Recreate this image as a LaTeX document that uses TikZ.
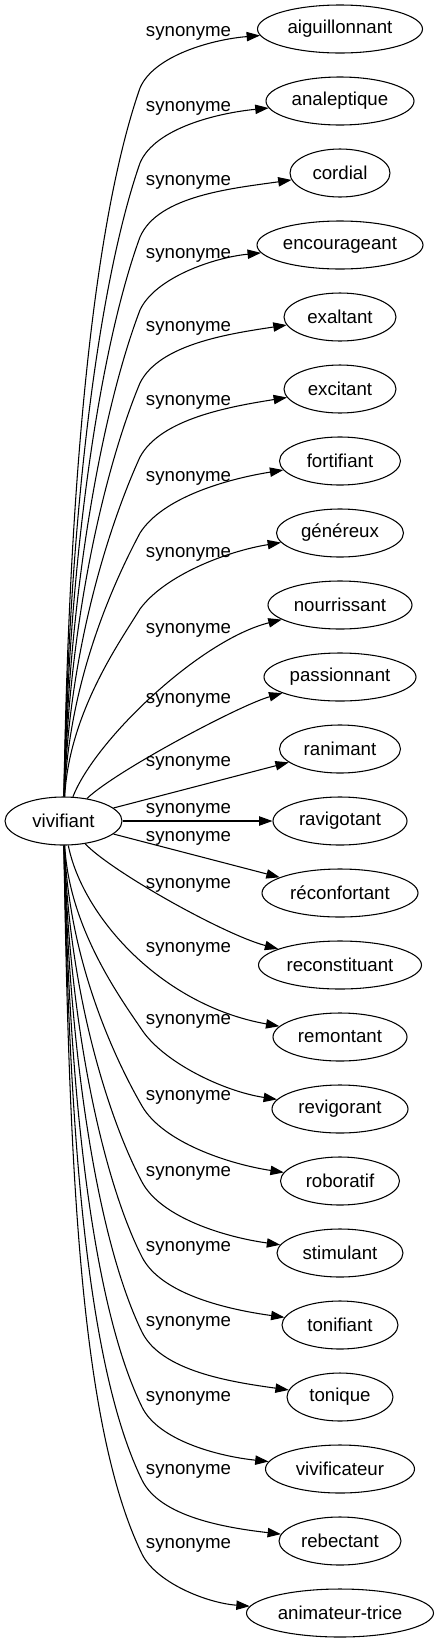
\documentclass[tikz,border=0pt]{standalone}
\usepackage{fontspec}
\setmainfont{Liberation Sans}
\usetikzlibrary{arrows.meta,shapes.geometric}
\begin{document}
\begin{tikzpicture}[x=0.75pt,y=-0.75pt,
  tg/.style={draw,ellipse,minimum height=36pt,inner sep=0pt,line width=0.8pt,font=\fontsize{14pt}{16pt}\selectfont},
  lb/.style={inner sep=0pt,font=\fontsize{14pt}{16pt}\selectfont},
  cnx/.style={draw,line width=0.8pt,-{Triangle[length=10pt,width=7pt]}}]
\useasboundingbox (0,0) rectangle (439,1643);
% centre node
\node[tg,minimum width=87.75pt] (viv) at (63.5,821) {vivifiant};
% targets
\node[tg,minimum width=123.75pt] (t0) at (340,29) {aiguillonnant};
\node[tg,minimum width=111pt] (t1) at (340,101) {analeptique};
\node[tg,minimum width=75pt] (t2) at (340,173) {cordial};
\node[tg,minimum width=124.5pt] (t3) at (340,245) {encourageant};
\node[tg,minimum width=84pt] (t4) at (340,317) {exaltant};
\node[tg,minimum width=84pt] (t5) at (340,389) {excitant};
\node[tg,minimum width=90.75pt] (t6) at (340,461) {fortifiant};
\node[tg,minimum width=95.25pt] (t7) at (340,533) {généreux};
\node[tg,minimum width=108pt] (t8) at (340,605) {nourrissant};
\node[tg,minimum width=114pt] (t9) at (340,677) {passionnant};
\node[tg,minimum width=90.75pt] (t10) at (340,749) {ranimant};
\node[tg,minimum width=100.5pt] (t11) at (340,821) {ravigotant};
\node[tg,minimum width=117pt] (t12) at (340,893) {réconfortant};
\node[tg,minimum width=122.25pt] (t13) at (340,965) {reconstituant};
\node[tg,minimum width=100.5pt] (t14) at (340,1037) {remontant};
\node[tg,minimum width=102pt] (t15) at (340,1109) {revigorant};
\node[tg,minimum width=89.25pt] (t16) at (340,1181) {roboratif};
\node[tg,minimum width=94.5pt] (t17) at (340,1253) {stimulant};
\node[tg,minimum width=87pt] (t18) at (340,1325) {tonifiant};
\node[tg,minimum width=79.5pt] (t19) at (340,1397) {tonique};
\node[tg,minimum width=111.75pt] (t20) at (340,1469) {vivificateur};
\node[tg,minimum width=91.5pt] (t21) at (340,1541) {rebectant};
\node[tg,minimum width=140.25pt] (t22) at (340,1613) {animateur-trice};
% labels
\foreach \k/\yy in {0/33,1/108,2/182,3/255,4/328,5/402,6/478,7/554,8/630,9/700,10/763,11/810,12/838,13/885,14/949,15/1021,16/1097,17/1173,18/1248,19/1323,20/1398,21/1471,22/1545}{
  \node[lb] (l\k) at (188.5,\yy) {synonyme};
}
% upper edges
\foreach \i/\hw/\yL/\tk/\arr in {0/82.5/33/70/13,1/74/108/70/14,2/50/182/69/15,3/83/255/68/16,4/56/328/66/17,5/56/402/64/18,6/60.5/478/60/19,7/63.5/554/56/20}{
  \pgfmathsetmacro\yT{29+72*\i}
  \pgfmathsetmacro\yK{\yL+55}
  \pgfmathsetmacro\hh{797-\yK}
  \pgfmathsetmacro\xT{340-\hw}
  \pgfmathsetmacro\ww{\xT-142}
  \pgfmathsetmacro\cAy{797-0.45*\hh}
  \pgfmathsetmacro\cBx{142-0.2*\hh*cos(\tk)}
  \pgfmathsetmacro\cBy{\yK+0.2*\hh*sin(\tk)}
  \pgfmathsetmacro\cCx{142+0.3*\ww*cos(\tk)}
  \pgfmathsetmacro\cCy{\yK-0.3*\ww*sin(\tk)}
  \pgfmathsetmacro\cDx{\xT-0.4*\ww*cos(\arr)}
  \pgfmathsetmacro\cDy{\yT+0.4*\ww*sin(\arr)}
  \coordinate (k\i) at (140,\yK);
  \draw[cnx] (viv) .. controls (69,\cAy) and (\cBx,\cBy) .. (k\i) .. controls (\cCx,\cCy) and (\cDx,\cDy) .. (t\i);
}
\draw[cnx] (viv) .. controls (95,740) and (200,640) .. (t8);
\draw[cnx] (viv) .. controls (115.6,771) and (240,705) .. (t9);
\draw[cnx] (viv) -- (t10);
\draw[cnx] (viv) -- (t11);
\draw[cnx] (viv) -- (t12);
\draw[cnx] (viv) .. controls (112,872) and (225,935) .. (t13);
\draw[cnx] (viv) .. controls (82,915) and (160,1005) .. (t14);
% lower edges
\foreach \i/\hw/\yL/\tk/\arr in {15/68/1021/56/20,16/59.5/1097/60/18,17/63/1173/62/17,18/58/1248/63/16,19/53/1323/64/15,20/74.5/1398/64/15,21/61/1471/64/14,22/93.5/1545/64/14}{
  \pgfmathsetmacro\yT{29+72*\i}
  \pgfmathsetmacro\yK{\yL+9}
  \pgfmathsetmacro\hh{\yK-845}
  \pgfmathsetmacro\xT{340-\hw}
  \pgfmathsetmacro\ww{\xT-142}
  \pgfmathsetmacro\cAy{845+0.45*\hh}
  \pgfmathsetmacro\cBx{142-0.2*\hh*cos(\tk)}
  \pgfmathsetmacro\cBy{\yK-0.2*\hh*sin(\tk)}
  \pgfmathsetmacro\cCx{142+0.3*\ww*cos(\tk)}
  \pgfmathsetmacro\cCy{\yK+0.3*\ww*sin(\tk)}
  \pgfmathsetmacro\cDx{\xT-0.4*\ww*cos(\arr)}
  \pgfmathsetmacro\cDy{\yT-0.4*\ww*sin(\arr)}
  \coordinate (k\i) at (142,\yK);
  \draw[cnx] (viv) .. controls (69,\cAy) and (\cBx,\cBy) .. (k\i) .. controls (\cCx,\cCy) and (\cDx,\cDy) .. (t\i);
}
\end{tikzpicture}
\end{document}
